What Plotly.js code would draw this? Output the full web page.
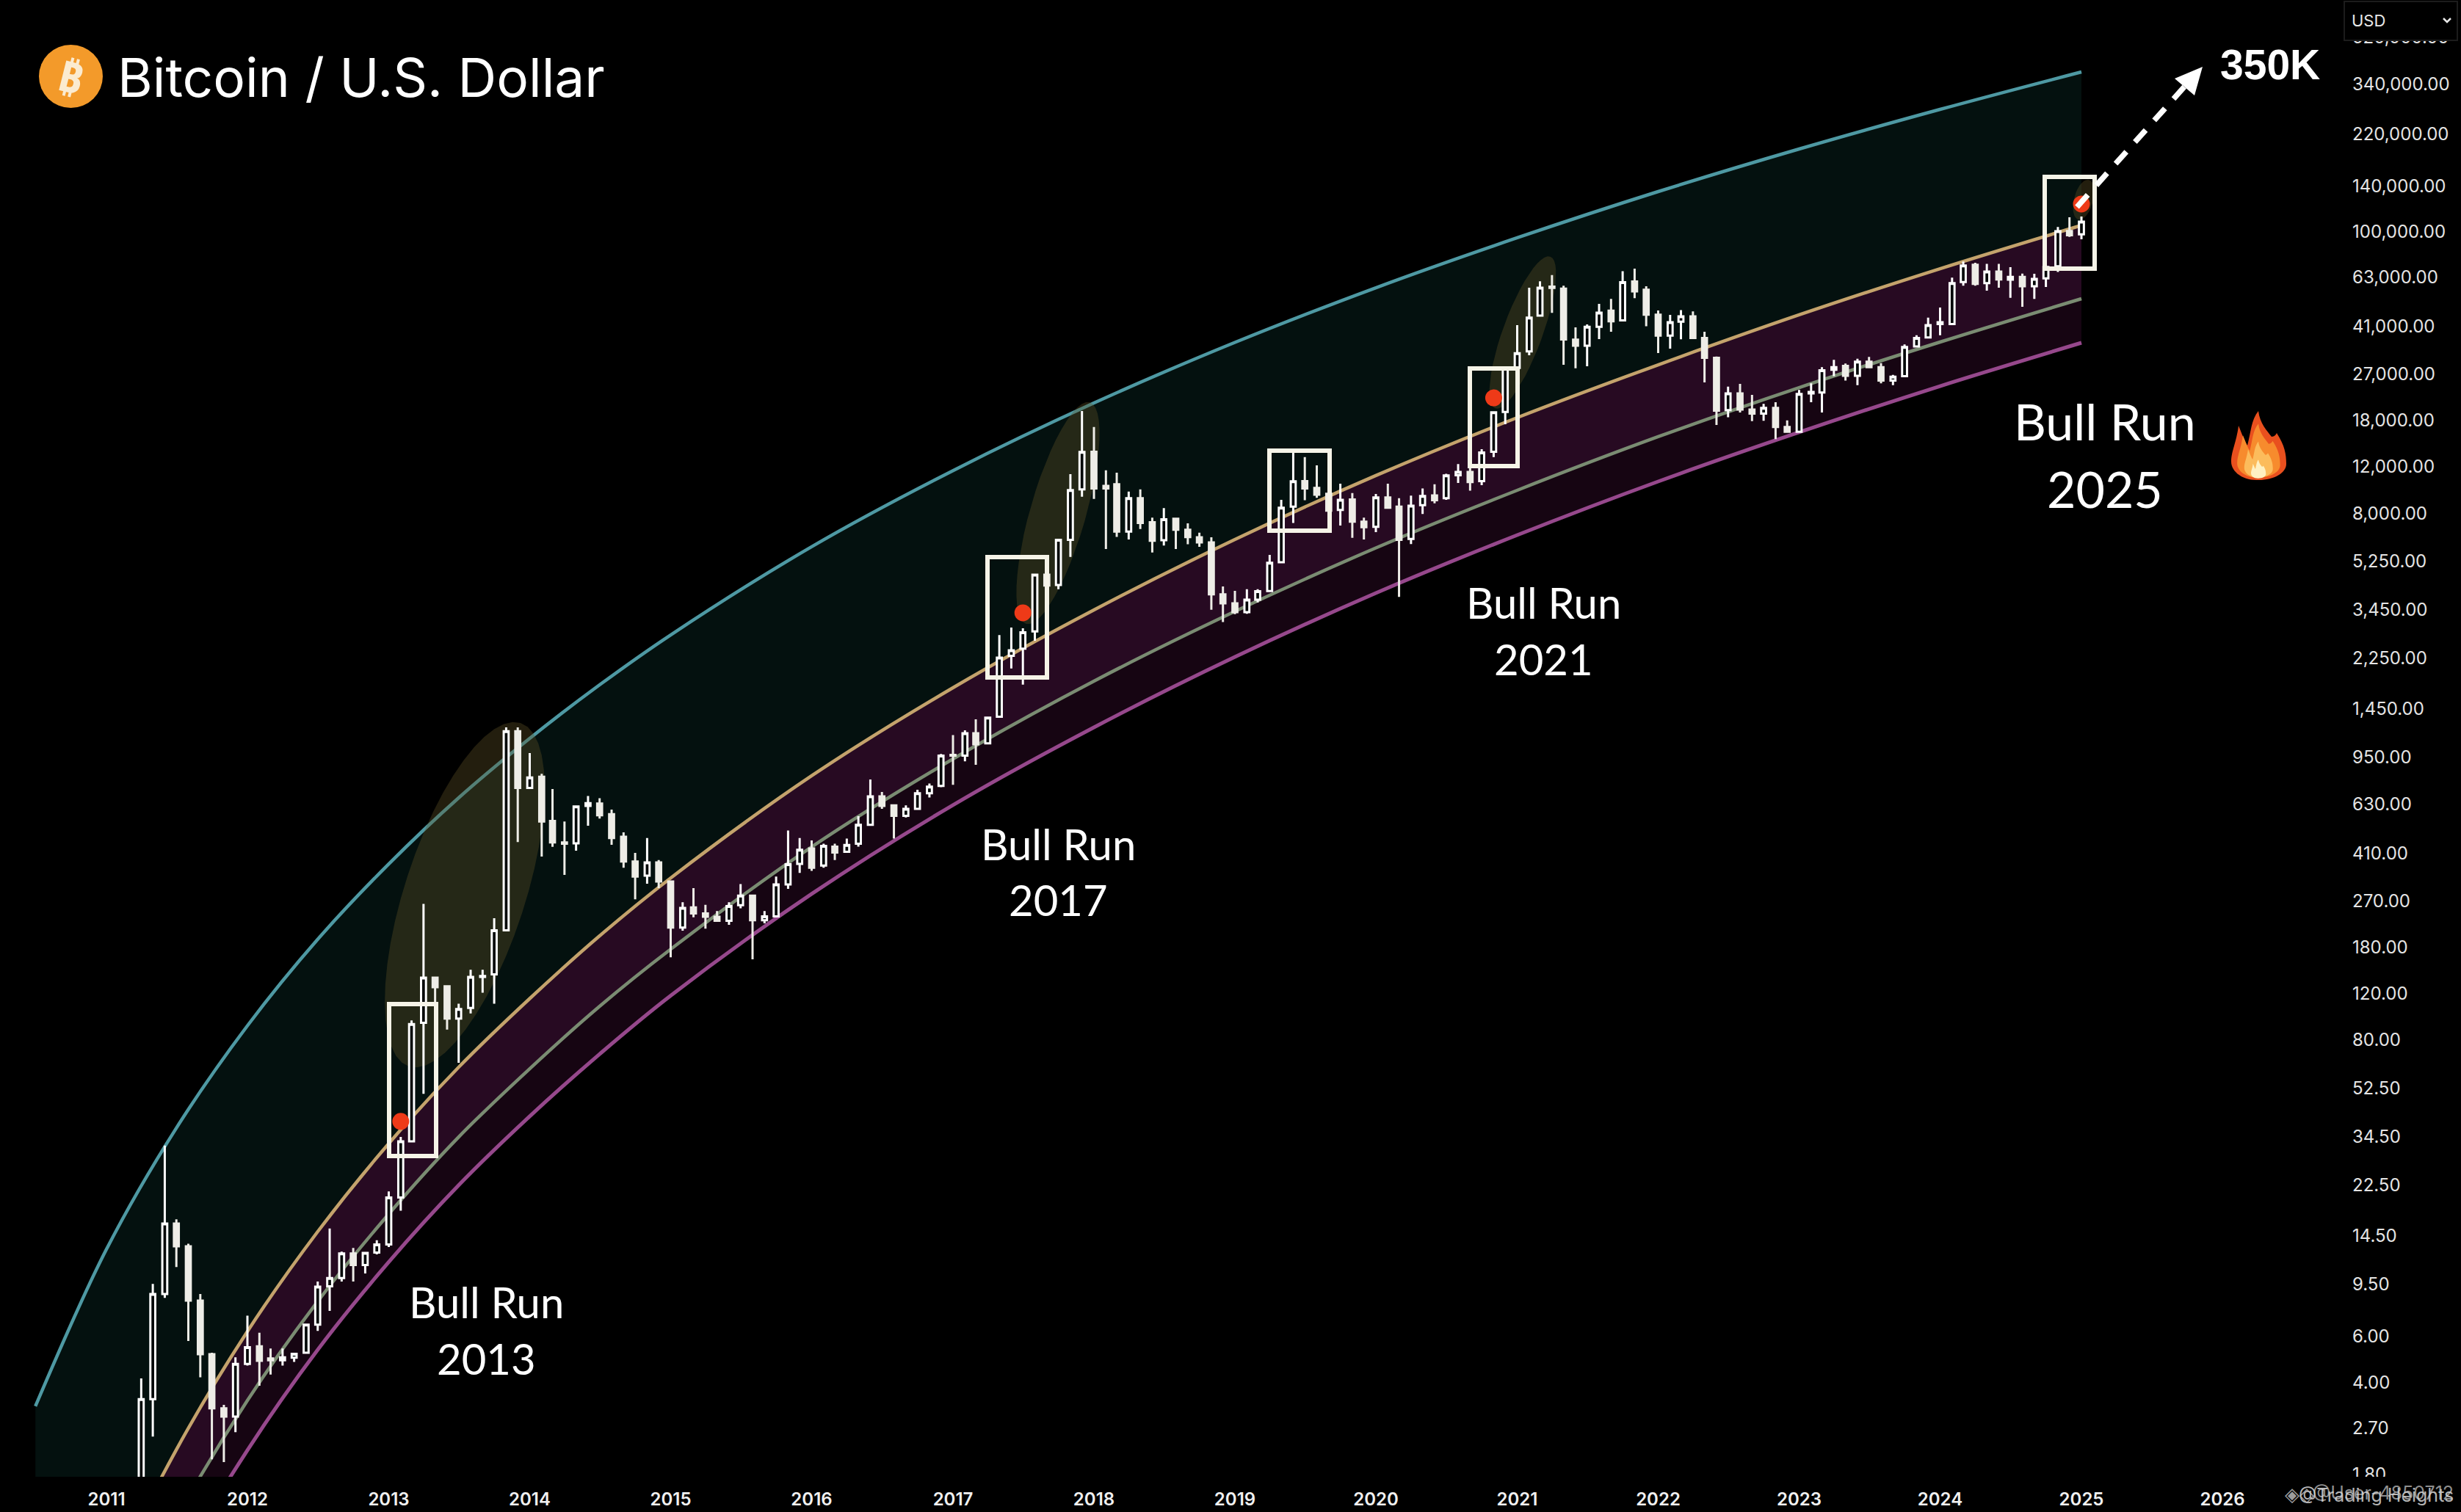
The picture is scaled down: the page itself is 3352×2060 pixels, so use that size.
<!DOCTYPE html>
<html>
<head>
<meta charset="utf-8">
<script src="https://cdn.plot.ly/plotly-3.0.1.min.js"></script>
<style>html,body{margin:0;padding:0;background:#000;}</style>
</head>
<body>
<div id="chart" style="width:3352px;height:2060px;"></div>
<script>
// ---------- monthly candles ----------
const months = [
"2011-04-01","2011-05-01","2011-06-01","2011-07-01","2011-08-01","2011-09-01","2011-10-01","2011-11-01","2011-12-01",
"2012-01-01","2012-02-01","2012-03-01","2012-04-01","2012-05-01","2012-06-01","2012-07-01","2012-08-01","2012-09-01","2012-10-01","2012-11-01","2012-12-01",
"2013-01-01","2013-02-01","2013-03-01","2013-04-01","2013-05-01","2013-06-01","2013-07-01","2013-08-01","2013-09-01","2013-10-01","2013-11-01","2013-12-01",
"2014-01-01","2014-02-01","2014-03-01","2014-04-01","2014-05-01","2014-06-01","2014-07-01","2014-08-01","2014-09-01","2014-10-01","2014-11-01","2014-12-01",
"2015-01-01","2015-02-01","2015-03-01","2015-04-01","2015-05-01","2015-06-01","2015-07-01","2015-08-01","2015-09-01","2015-10-01","2015-11-01","2015-12-01",
"2016-01-01","2016-02-01","2016-03-01","2016-04-01","2016-05-01","2016-06-01","2016-07-01","2016-08-01","2016-09-01","2016-10-01","2016-11-01","2016-12-01",
"2017-01-01","2017-02-01","2017-03-01","2017-04-01","2017-05-01","2017-06-01","2017-07-01","2017-08-01","2017-09-01","2017-10-01","2017-11-01","2017-12-01",
"2018-01-01","2018-02-01","2018-03-01","2018-04-01","2018-05-01","2018-06-01","2018-07-01","2018-08-01","2018-09-01","2018-10-01","2018-11-01","2018-12-01",
"2019-01-01","2019-02-01","2019-03-01","2019-04-01","2019-05-01","2019-06-01","2019-07-01","2019-08-01","2019-09-01","2019-10-01","2019-11-01","2019-12-01",
"2020-01-01","2020-02-01","2020-03-01","2020-04-01","2020-05-01","2020-06-01","2020-07-01","2020-08-01","2020-09-01","2020-10-01","2020-11-01","2020-12-01",
"2021-01-01","2021-02-01","2021-03-01","2021-04-01","2021-05-01","2021-06-01","2021-07-01","2021-08-01","2021-09-01","2021-10-01","2021-11-01","2021-12-01",
"2022-01-01","2022-02-01","2022-03-01","2022-04-01","2022-05-01","2022-06-01","2022-07-01","2022-08-01","2022-09-01","2022-10-01","2022-11-01","2022-12-01",
"2023-01-01","2023-02-01","2023-03-01","2023-04-01","2023-05-01","2023-06-01","2023-07-01","2023-08-01","2023-09-01","2023-10-01","2023-11-01","2023-12-01",
"2024-01-01","2024-02-01","2024-03-01","2024-04-01","2024-05-01","2024-06-01","2024-07-01","2024-08-01","2024-09-01","2024-10-01","2024-11-01","2024-12-01",
"2025-01-01"];
const open = [
.78,3.47,8.7,16.1,13.2,8.2,5.14,3.2,2.98,
4.72,5.5,4.95,4.87,4.98,5.2,6.65,9.3,10,12.4,11.2,12.5,
13.4,20.2,33,93,138,128,96.5,106,139,142,209,1191,
725,800,543,450,447,620,633,576,473,381,337,378,
320,214,255,242,235,227,260,283,228,236,312,373,
427,368,434,415,445,525,673,623,568,604,692,738,
968,962,1170,1070,1350,2300,2450,2850,4677,4270,6340,9860,
13700,10160,10300,6820,9120,7400,6320,7620,6920,6480,6200,3940,
3640,3370,3760,4050,5210,8480,10600,9980,9480,8240,9020,7430,
7100,9180,8480,6390,8590,9340,9130,11150,11480,10600,13700,19400,
28500,32900,45000,58000,57000,36500,34600,40800,47000,43200,60700,56400,
45400,37800,42700,44700,37000,31100,19700,22800,19800,19100,20100,17000,
16300,22800,23000,28050,29000,26600,30100,28700,25500,26500,34400,37200,
41800,41800,60400,70200,59800,66100,61600,63100,58200,62300,69300,94300,
91600];
const high = [
4.16,9.5,31.8,16.7,13.5,8.7,5.2,3.3,5.0,
7.2,6.2,5.4,5.4,5.2,6.7,9.7,15.4,12.6,13,12.5,13.9,
21.3,34.3,95,263,139,129,110,148,148,232,1230,1230,
984,820,718,541,620,676,663,600,492,411,468,386,
322,267,302,261,247,267,313,285,247,334,500,468,
458,445,445,466,566,781,700,625,623,714,753,975,
1150,1200,1320,1350,2760,2945,2925,4710,4900,6400,11250,19540,
17000,11640,11400,9660,9860,7700,8370,7650,7330,6750,6480,4220,
4060,4120,4120,5560,9000,13560,13060,12160,10900,10350,9550,7700,
9470,10350,9120,9330,9930,10300,11300,12300,12790,14000,19500,28800,
41400,57400,60800,64200,58500,40600,41700,49900,52100,66400,67900,58200,
47100,45300,47200,46700,39100,31500,24200,24800,22500,20800,21100,18000,
23500,24900,28700,30600,29600,30900,31400,29700,26800,35000,37900,44200,
48300,62700,72300,71400,70800,70800,68700,65000,64900,70000,97700,106400,
107100];
const low = [
.56,2.5,8.4,11,5.77,4.2,2.05,2.0,2.6,
4.65,3.9,4.3,4.65,4.8,5.15,6.3,7.5,9.7,9.7,10.4,12.3,
13.1,18,33,50,79,87.7,65.6,101,121,110,209,452,
720,398,433,339,419,521,555,441,361,274,314,302,
165,208,234,212,225,219,253,162,222,235,300,345,
351,361,386,415,434,520,604,466,560,600,667,730,
745,915,888,1065,1350,2060,1790,2625,2970,4120,5460,9250,
9060,5850,6500,6365,6970,5680,6030,5850,6100,5970,3440,3090,
3310,3320,3670,4030,5200,7350,8960,9160,8100,7180,6450,6365,
6780,8320,3850,6110,7950,8720,9000,10420,9750,10230,13060,17420,
28000,31840,45000,46100,29300,28400,28900,36640,39100,42900,52400,41000,
32450,33700,36600,36900,25100,17300,18500,19300,17900,17950,15300,16150,
16250,21100,19300,26500,25500,24500,28600,24900,24500,26500,34100,37000,
37900,41500,58500,58500,56000,57400,52600,48600,52100,57800,65900,89500,
87700];
const close = [
3.47,8.7,16.1,13.2,8.2,5.14,3.2,2.98,4.72,
5.46,4.85,4.87,5.0,5.15,6.65,9.27,10,12.4,11.2,12.45,13.4,
20.2,33,92,138,127,96.5,105,139,140,209,1191,725,
795,541,450,445,617,635,571,468,381,334,378,320,
214,254,242,235,227,258,283,228,236,312,372,422,
361,437,412,440,525,673,620,568,604,692,733,962,
962,1170,1062,1340,2265,2414,2826,4677,4250,6340,9795,13680,
9930,9930,6820,9120,7350,6290,7590,6920,6490,6200,3940,3640,
3370,3760,4045,5190,8390,10570,9930,9410,8180,9000,7430,7080,
9180,8390,6340,8550,9300,8960,11130,11480,10500,13600,19320,28270,
32400,44200,57400,57300,36550,34600,40800,46200,42850,60300,55600,45400,
37800,42500,44700,37000,31100,19600,22800,19800,19100,20100,17000,16300,
22700,23100,27900,28700,26600,30100,28700,25500,26400,34200,37000,41400,
42500,59800,69700,59400,66100,61700,63100,58200,62000,68900,94200,90800,
102300];

// ---------- the four curved bands ----------
const bandDates = ["2010-07-01","2011-01-01","2011-07-01","2012-01-01","2012-07-01","2013-01-01","2013-07-01","2014-01-01","2014-07-01","2015-01-01","2016-01-01","2017-01-01","2018-01-01","2019-01-01","2020-01-01","2021-01-01","2022-01-01","2023-01-01","2024-01-01","2025-01-01"];
const upperBand  = [3.26,12.85,37.1,90.7,193,373,665,1118,1785,2762,5970,11610,20970,35610,57430,88870,133100,193100,273000,378700];
const midBand    = [.1326,.651,2.23,6.27,15.0,32.4,63.1,115,199,330,806,1741,3436,6362,11120,18450,29280,45310,67840,99080];
const lowerBand  = [.0735,.3584,1.22,3.43,8.15,17.5,34.3,62.3,107.5,177,433,934,1844,3391,5907,9777,15620,24000,35730,52170];
const floorBand  = [.0466,.230,.789,2.22,5.34,11.5,22.5,41.1,70.8,118,287,624,1231,2278,3982,6610,10560,16230,24310,35500];

// ---------- red markers and axis labels ----------
const dotDates  = ["2013-02-01","2017-07-01","2020-11-01","2025-01-01"];
const dotPrices = [39.3,3350,21930,119400];
const yearTicks  = ["2011-01-01","2012-01-01","2013-01-01","2014-01-01","2015-01-01","2016-01-01","2017-01-01","2018-01-01","2019-01-01","2020-01-01","2021-01-01","2022-01-01","2023-01-01","2024-01-01","2025-01-01","2026-01-01"];
const yearLabels = ["2011","2012","2013","2014","2015","2016","2017","2018","2019","2020","2021","2022","2023","2024","2025","2026"];
const priceTicks  = [513000,340000,220000,140000,93500,63000,41000,27000,18000,12000,8000,5250,3450,2250,1450,950,630,410,270,180,120,80,52.5,34.5,22.5,14.5,9.5,6,4,2.7,1.8];
const priceLabels = ["520,000.00","340,000.00","220,000.00","140,000.00","100,000.00","63,000.00","41,000.00","27,000.00","18,000.00","12,000.00","8,000.00","5,250.00","3,450.00","2,250.00","1,450.00","950.00","630.00","410.00","270.00","180.00","120.00","80.00","52.50","34.50","22.50","14.50","9.50","6.00","4.00","2.70","1.80"];

// ---------- page geometry helpers (decoration only) ----------
const W = 3352, H = 2060, PW = 3190, PH = 2012;
const PX_PER_DAY = 0.52601, PX_JAN11 = 145, PX_PER_DEC = 358.9, LOG_REF = 5.531, PY_REF = 115;
const toDate = px => new Date(Date.UTC(2011,0,1) + (px-PX_JAN11)/PX_PER_DAY*864e5).toISOString();
const toLog = py => LOG_REF - (py-PY_REF)/PX_PER_DEC;
const xRange = [toDate(0), toDate(PW)];
const yRange = [toLog(PH), toLog(0)];
const px = v => v/PW, py = v => 1 - v/PH;

function hazeTrace(cx, cy, a, b, deg) {
  const xs = [], ys = [], t = deg*Math.PI/180;
  for (let i = 0; i <= 48; i++) {
    const u = i/48*2*Math.PI;
    const dx = b*Math.cos(u), dy = -a*Math.sin(u);
    const X = cx + dx*Math.cos(t) - dy*Math.sin(t);
    const Y = cy + dx*Math.sin(t) + dy*Math.cos(t);
    xs.push(toDate(X)); ys.push(Math.pow(10, toLog(Y)));
  }
  return {type:'scatter', mode:'lines', x:xs, y:ys, fill:'toself', fillcolor:'rgba(96,82,38,0.36)', line:{width:0}, hoverinfo:'skip', showlegend:false, xaxis:'x', yaxis:'y'};
}
function band(y, color, width, fillcolor) {
  const t = {type:'scatter', mode:'lines', x:bandDates, y:y, line:{color:color, width:width, shape:'spline', smoothing:1}, hoverinfo:'skip', showlegend:false, xaxis:'x', yaxis:'y'};
  if (fillcolor) { t.fill = 'tonexty'; t.fillcolor = fillcolor; }
  return t;
}
const data = [
  band(upperBand, '#4E99A3', 4.5),
  band(midBand,   '#C4A36C', 4.5, '#04110F'),
  band(lowerBand, '#7A8C72', 4.5, '#270A22'),
  band(floorBand, '#96488C', 5, '#160512'),
  hazeTrace(633,1219,246,82,18),
  hazeTrace(1441,699,157,38,16),
  hazeTrace(2074,453,110,27,20),
  hazeTrace(2838,272,28,13,15),
  {type:'candlestick', x:months, open:open, high:high, low:low, close:close, xaxis:'x2', yaxis:'y2',
   increasing:{line:{color:'#FFFFFF',width:3}, fillcolor:'#030808'},
   decreasing:{line:{color:'#EEEDE7',width:3}, fillcolor:'#EEEDE7'},
   whiskerwidth:0, hoverinfo:'skip', showlegend:false},
  {type:'scatter', mode:'markers', x:dotDates, y:dotPrices, xaxis:'x2', yaxis:'y2',
   marker:{color:'#EE3A18', size:23}, hoverinfo:'skip', showlegend:false}
];

// ---------- decoration ----------
function rect(x0,y0,x1,y1,opt){ return Object.assign({type:'rect',xref:'paper',yref:'paper',x0:px(x0),x1:px(x1),y0:py(y0),y1:py(y1),layer:'above',line:{width:0}},opt); }
function pathFrom(pts){ return 'M'+pts.map(p=>px(p[0])+','+py(p[1])).join(' L')+' Z'; }
function curve(pts){
  let s = 'M'+px(pts[0][0])+','+py(pts[0][1]);
  for (let i=1;i<pts.length;i+=3){
    s += ' C'+[pts[i],pts[i+1],pts[i+2]].map(p=>px(p[0])+','+py(p[1])).join(' ');
  }
  return s+' Z';
}
const flameOutline = [[0,47],[-22,48],[-37,35],[-37,22],[-37,8],[-30,-4],[-27,-27],[-22,-15],[-19,-6],[-15,0],[-10,-18],[-10,-35],[0,-47],[2,-30],[12,-20],[18,-12],[22,-12],[24,-15],[25,-17],[36,0],[38,12],[38,25],[38,37],[22,47],[0,47]];
function flame(scale, cx, cy, color){
  return {type:'path', xref:'paper', yref:'paper', layer:'above', line:{width:0}, fillcolor:color,
          path:curve(flameOutline.map(p=>[cx+p[0]*scale, cy+p[1]*scale]))};
}
const boxStroke = {line:{color:'#F6F4E8',width:6}, fillcolor:'rgba(0,0,0,0)'};
const shapes = [
  rect(530,1368,594,1575,boxStroke),
  rect(1345,759,1426,923,boxStroke),
  rect(1729,614,1811,723,boxStroke),
  rect(2002,502,2067,635,boxStroke),
  rect(2785,241,2853,366,boxStroke),
  // USD selector hides the top scale label, strip below the plot trims the lowest one
  rect(3193,2,3347,55,{line:{color:'#1C1C1C',width:2}, fillcolor:'#000000', layer:'above'}),
  rect(3195,2012,3352,2060,{fillcolor:'#000000'}),
  {type:'path', xref:'paper', yref:'paper', layer:'above', line:{color:'#E8E8E8',width:2.5}, path:'M'+px(3328)+','+py(25)+' L'+px(3333)+','+py(30)+' L'+px(3338)+','+py(25)},
  // bitcoin badge
  {type:'circle', xref:'paper', yref:'paper', layer:'above', x0:px(53), x1:px(140), y0:py(61), y1:py(147), fillcolor:'#F39A2A', line:{width:0}},
  // dashed arrow
  {type:'line', xref:'paper', yref:'paper', layer:'above', x0:px(2829), y0:py(282), x1:px(2978), y1:py(115), line:{color:'#FFFFFF',width:7.5,dash:'22px,17.5px'}},
  {type:'path', xref:'paper', yref:'paper', layer:'above', fillcolor:'#FFFFFF', line:{width:0}, path:pathFrom([[3000,91],[2962,107],[2989,130]])},
  // flame
  flame(1,3076,607,'#E9501E'),
  flame(0.78,3076,614,'#F78B2D'),
  flame(0.52,3076,626,'#FCBC5C'),
  flame(0.27,3076,639,'#FFF1C2')
];
function note(text,x,y,size,family,opt){
  return Object.assign({xref:'paper',yref:'paper',x:px(x),y:py(y),text:text,showarrow:false,xanchor:'center',yanchor:'middle',
    font:{family:family,size:size,color:'#FFFFFF'}},opt||{});
}
const annotations = [
  note('Bitcoin / U.S. Dollar',158,106,73,'Inter',{xanchor:'left'}),
  note('₿',96,104,58,'Noto Sans, DejaVu Sans',{textangle:14,font:{family:'Noto Sans, DejaVu Sans',size:58,color:'#FBEBD0',weight:700}}),
  note('Bull Run',662,1773,58,'Lato'), note('2013',662,1850,58,'Lato'),
  note('Bull Run',1441,1149,58,'Lato'), note('2017',1441,1225,58,'Lato'),
  note('Bull Run',2102,820,58,'Lato'), note('2021',2102,897,58,'Lato'),
  note('Bull Run',2867,573,68,'Lato'), note('2025',2867,665,68,'Lato'),
  note('350K',3092,88,57,'Liberation Sans',{font:{family:'Liberation Sans',size:57,color:'#FFFFFF',weight:700}}),
  note('USD',3201,28,22,'Inter',{xanchor:'left',font:{family:'Inter',size:22,color:'#E8E8E8'}}),
  note('@User-4850712',3344,2034,25,'Inter',{xanchor:'right',font:{family:'Inter',size:25,color:'rgba(190,190,190,0.75)'}}),
  note('@Trading Heights',3344,2037,25,'Inter',{xanchor:'right',font:{family:'Inter',size:25,color:'rgba(215,215,215,0.85)'}}),
  note('◈◇',3110,2036,26,'DejaVu Sans',{xanchor:'left',font:{family:'DejaVu Sans',size:26,color:'rgba(200,200,200,0.8)'}})
];

const layout = {
  width:W, height:H, autosize:false,
  paper_bgcolor:'#000000', plot_bgcolor:'#000000',
  margin:{l:0,r:W-PW,t:0,b:H-PH,pad:0},
  showlegend:false, boxgap:0.35, dragmode:false,
  xaxis:{type:'date', range:xRange, tickmode:'array', tickvals:yearTicks, ticktext:yearLabels,
    tickfont:{family:'Inter',size:24,color:'#F0F0F0',weight:600}, showgrid:false, zeroline:false, showline:false, ticks:'', ticklabelstandoff:14, rangeslider:{visible:false}, tickangle:0},
  yaxis:{type:'log', range:yRange, side:'right', tickmode:'array', tickvals:priceTicks, ticktext:priceLabels,
    tickfont:{family:'Inter',size:24,color:'#E4E4E4'}, showgrid:false, zeroline:false, showline:false, ticks:'', ticklabelstandoff:13},
  xaxis2:{type:'date', range:xRange, overlaying:'x', visible:false, rangeslider:{visible:false}, showgrid:false, zeroline:false},
  yaxis2:{type:'log', range:yRange, overlaying:'y', side:'right', visible:false, showgrid:false, zeroline:false},
  shapes:shapes, annotations:annotations
};
Plotly.newPlot('chart', data, layout, {staticPlot:true, displayModeBar:false});
</script>
</body>
</html>
